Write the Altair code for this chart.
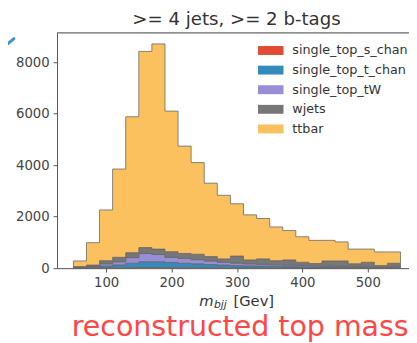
import altair as alt
import pandas as pd

# bin edges (GeV)
edges = list(range(50, 551, 20))
samples = ["single_top_s_chan", "single_top_t_chan", "single_top_tW", "wjets", "ttbar"]
colors = ["#E24A33", "#348ABD", "#988ED5", "#777777", "#FBC15E"]

s_chan = [3, 5, 10, 15, 20, 25, 25, 20, 18, 15, 14, 12, 10, 9, 8, 7, 6, 5, 5, 4, 4, 3, 3, 3, 2]
t_chan = [12, 30, 70, 110, 170, 225, 225, 200, 172, 155, 126, 108, 90, 81, 72, 63, 54, 45, 40, 36, 31, 27, 27, 22, 18]
tW = [15, 35, 90, 125, 220, 320, 280, 200, 190, 160, 140, 110, 100, 80, 70, 60, 60, 50, 45, 40, 35, 30, 25, 25, 25]
wjets = [30, 50, 120, 170, 190, 230, 210, 220, 190, 210, 170, 130, 270, 150, 210, 160, 200, 130, 90, 200, 210, 110, 175, 50, 145]
ttbar = [220, 870, 1970, 3430, 5280, 7620, 7970, 5460, 4170, 3560, 2850, 2470, 2030, 1750, 1570, 1310, 1140, 990, 900, 800, 740, 570, 510, 530, 440]

x_ticks = [100, 200, 300, 400, 500]
y_ticks = [0, 2000, 4000, 6000, 8000]

series = [s_chan, t_chan, tW, wjets, ttbar]
rows = []
for k, (name, vals) in enumerate(zip(samples, series)):
    for i, e in enumerate(edges):
        rows.append({"m": e, "count": vals[min(i, len(vals) - 1)], "sample": name, "ord": k})
df = pd.DataFrame(rows)
one = pd.DataFrame({"k": [0]})

W, H = 359, 240
FONT = "DejaVu Sans"

axis_style = dict(grid=False, labelFontSize=13.5, labelColor="#444444", tickColor="#555555",
                  domainColor="#555555", tickSize=4, labelPadding=4, labelFont=FONT, format="d")

hist = alt.Chart(df).mark_area(
    interpolate="step-after", stroke="#666666", strokeWidth=0.8
).encode(
    x=alt.X("m:Q", scale=alt.Scale(domain=[25, 563], nice=False, zero=False),
            axis=alt.Axis(values=x_ticks, title=None, **axis_style)),
    y=alt.Y("count:Q", stack="zero", scale=alt.Scale(domain=[0, 9140], nice=False),
            axis=alt.Axis(values=y_ticks, title=None, **axis_style)),
    color=alt.Color("sample:N", scale=alt.Scale(domain=samples, range=colors),
                    legend=alt.Legend(title=None, orient="none", legendX=205, legendY=5,
                                      symbolType="M-1,-0.35H1V0.35H-1Z", symbolSize=676,
                                      symbolStrokeWidth=0, labelFontSize=13, labelFont=FONT,
                                      labelColor="#333333", labelOffset=9, rowPadding=-4,
                                      padding=0, labelLimit=300)),
    order=alt.Order("ord:Q", sort="ascending"),
)

top_border = alt.Chart(one).mark_rule(color="#555555", strokeWidth=1).encode(
    x=alt.value(0), x2=alt.value(W), y=alt.value(0)
)

def txt(text, x, y, size, style="normal", color="#333333"):
    return alt.Chart(one).mark_text(
        text=text, font=FONT, fontSize=size, fontStyle=style, color=color,
        align="left", baseline="alphabetic"
    ).encode(x=alt.value(x), y=alt.value(y))

title_txt = alt.Chart(one).mark_text(
    text=">= 4 jets, >= 2 b-tags", font=FONT, fontSize=18.5, color="#333333",
    align="center", baseline="alphabetic"
).encode(x=alt.value(183), y=alt.value(-8))

m_txt = txt("m", 145, 279, 15, "italic")
bjj_txt = txt("bjj", 160, 281, 11, "italic")
gev_txt = txt("[Gev]", 180, 279, 15)
red_txt = txt("reconstructed top mass", 15, 309, 29, color="#FF4646")

blue_mark = alt.Chart(one).mark_rule(color="#3A8FDB", strokeWidth=3, strokeCap="round").encode(
    x=alt.value(-50), y=alt.value(11), x2=alt.value(-44), y2=alt.value(6)
)

chart = alt.layer(hist, top_border, title_txt, m_txt, bjj_txt, gev_txt, red_txt, blue_mark).properties(
    width=W, height=H,
    autosize=alt.AutoSizeParams(type="none"),
    padding={"left": 50, "top": 22, "right": 0, "bottom": 73},
).configure_view(stroke=None).configure(background="white")

chart.save("out.html", embed_options={"renderer": "svg", "actions": False})
